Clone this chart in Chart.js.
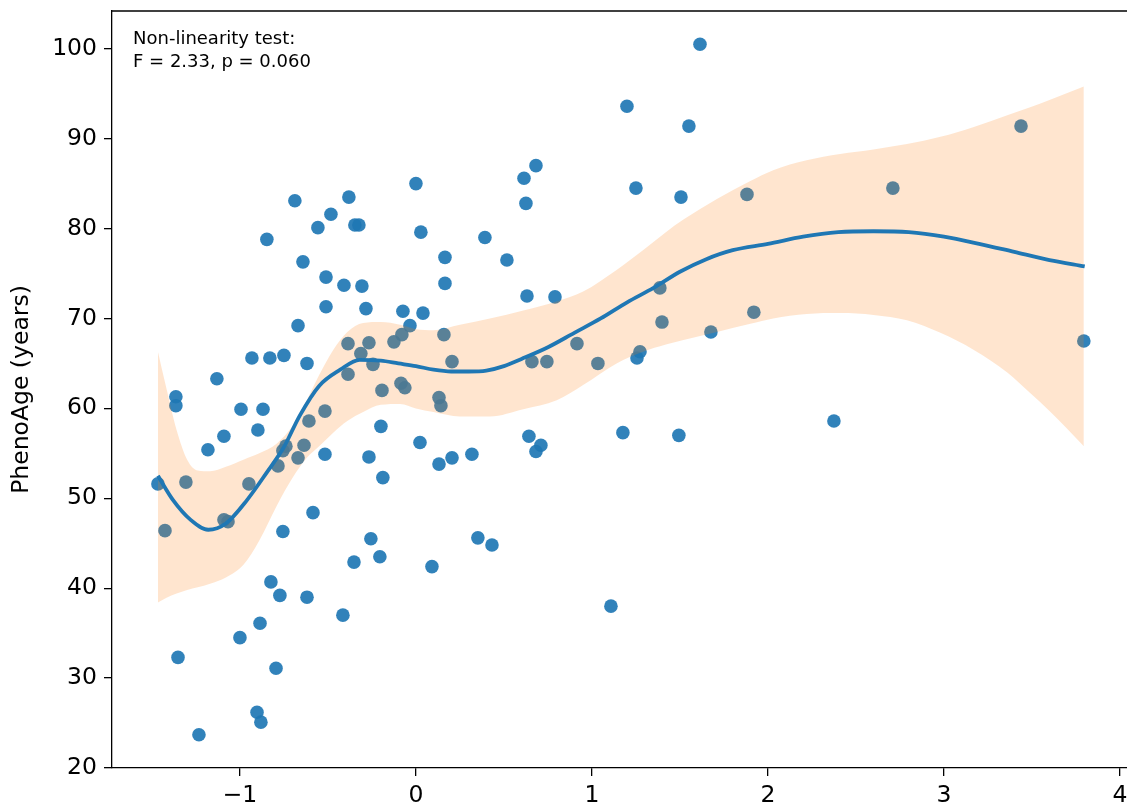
<!DOCTYPE html>
<html>
<head>
<meta charset="utf-8">
<title>PhenoAge non-linearity fit</title>
<script src="https://cdn.jsdelivr.net/npm/chart.js@4.4.1/dist/chart.umd.min.js"></script>
<style>
  html, body { margin: 0; padding: 0; background: #fff; overflow: hidden; }
  #wrap { width: 1160px; height: 810px; }
</style>
</head>
<body>
<div id="wrap"><canvas id="fitChart" width="1160" height="810"></canvas></div>
<script>
// Observed values (standardised exposure vs PhenoAge)
const scatterX = [
  -1.466, -1.426, -1.364, -1.364, -1.352, -1.307, -1.233, -1.182, -1.131, -1.091,
  -1.091, -1.068, -1.000, -0.994, -0.949, -0.932, -0.903, -0.898, -0.886, -0.881,
  -0.869, -0.847, -0.830, -0.824, -0.795, -0.784, -0.773, -0.756, -0.739, -0.756,
  -0.750, -0.688, -0.670, -0.670, -0.642, -0.636, -0.619, -0.619, -0.608, -0.585,
  -0.557, -0.517, -0.517, -0.511, -0.511, -0.483, -0.415, -0.409, -0.386, -0.386,
  -0.381, -0.352, -0.347, -0.324, -0.313, -0.307, -0.284, -0.267, -0.267, -0.256,
  -0.244, -0.205, -0.193, -0.199, -0.188, -0.125, -0.085, -0.080, -0.063, -0.074,
  -0.034, 0.000, 0.023, 0.028, 0.040, 0.091, 0.131, 0.142, 0.131, 0.159,
  0.165, 0.165, 0.205, 0.205, 0.318, 0.352, 0.392, 0.432, 0.517, 0.614,
  0.625, 0.631, 0.642, 0.659, 0.682, 0.682, 0.710, 0.744, 0.790, 0.915,
  1.034, 1.108, 1.176, 1.199, 1.250, 1.256, 1.273, 1.386, 1.398, 1.494,
  1.506, 1.551, 1.614, 1.676, 1.881, 1.920, 2.375, 2.710, 3.438, 3.795
];
const scatterY = [
  51.6, 46.4, 61.3, 60.3, 32.3, 51.8, 23.7, 55.4, 63.3, 56.9,
  47.6, 47.4, 34.5, 59.9, 51.6, 65.6, 26.2, 57.6, 36.1, 25.1,
  59.9, 78.8, 65.6, 40.7, 31.1, 53.6, 39.2, 55.3, 55.8, 46.3,
  65.9, 83.1, 54.5, 69.2, 76.3, 55.9, 65.0, 39.0, 58.6, 48.4,
  80.1, 59.7, 54.9, 74.6, 71.3, 81.6, 37.0, 73.7, 67.2, 63.8,
  83.5, 42.9, 80.4, 80.4, 66.1, 73.6, 71.1, 67.3, 54.6, 45.5,
  64.9, 43.5, 62.0, 58.0, 52.3, 67.4, 62.8, 68.2, 62.3, 70.8,
  69.2, 85.0, 56.2, 79.6, 70.6, 42.4, 61.2, 60.3, 53.8, 68.2,
  76.8, 73.9, 65.2, 54.5, 54.9, 45.6, 79.0, 44.8, 76.5, 85.6,
  82.8, 72.5, 56.9, 65.2, 87.0, 55.2, 55.9, 65.2, 72.4, 67.2,
  65.0, 38.0, 57.3, 93.6, 84.5, 65.6, 66.3, 73.4, 69.6, 57.0,
  83.5, 91.4, 100.5, 68.5, 83.8, 70.7, 58.6, 84.5, 91.4, 67.5
];

// Fitted spline
const fitX = [
  -1.466, -1.38, -1.28, -1.18, -1.08, -0.96, -0.85, -0.75, -0.66, -0.55,
  -0.43, -0.32, -0.20, -0.10, 0.00, 0.10, 0.20, 0.30, 0.40, 0.50,
  0.60, 0.75, 0.90, 1.05, 1.20, 1.35, 1.50, 1.65, 1.80, 2.00,
  2.20, 2.40, 2.60, 2.80, 3.00, 3.20, 3.40, 3.60, 3.80
];
const fitY = [
  52.5, 49.8, 47.6, 46.5, 47.2, 49.8, 52.8, 55.7, 59.2, 62.5,
  64.3, 65.4, 65.3, 65.0, 64.7, 64.3, 64.1, 64.1, 64.2, 64.7,
  65.5, 66.8, 68.4, 70.0, 71.8, 73.4, 75.2, 76.6, 77.6, 78.3,
  79.1, 79.6, 79.7, 79.6, 79.1, 78.3, 77.4, 76.5, 75.8
];

// 95% confidence band
const bandX = [
  -1.466, -1.42, -1.36, -1.30, -1.24, -1.17, -1.08, -0.98, -0.89, -0.79,
  -0.70, -0.62, -0.55, -0.47, -0.39, -0.30, -0.20, -0.09, 0.00, 0.10,
  0.25, 0.42, 0.61, 0.80, 0.95, 1.14, 1.29, 1.42, 1.52, 1.71,
  1.90, 2.03, 2.22, 2.41, 2.60, 2.79, 2.98, 3.17, 3.36, 3.49,
  3.60, 3.795
];
const bandUpper = [
  66.3, 62.4, 57.6, 54.3, 53.1, 53.0, 53.5, 54.3, 55.0, 56.1,
  58.1, 60.9, 63.7, 66.5, 68.5, 69.5, 69.6, 69.3, 68.8, 68.7,
  69.3, 70.0, 70.9, 71.9, 73.0, 75.4, 77.6, 79.6, 81.0, 83.3,
  85.3, 86.5, 87.6, 88.3, 88.8, 89.4, 90.2, 91.3, 92.6, 93.5,
  94.3, 95.8
];
const bandLower = [
  38.4, 38.9, 39.4, 39.8, 40.1, 40.5, 41.2, 42.6, 45.3, 49.2,
  52.3, 54.5, 55.8, 57.3, 58.6, 59.6, 60.4, 60.5, 60.0, 59.6,
  59.1, 59.1, 59.9, 60.9, 62.6, 65.0, 66.3, 67.1, 67.6, 68.5,
  69.4, 70.0, 70.5, 70.6, 70.4, 69.8, 68.4, 66.5, 64.0, 61.7,
  59.7, 55.8
];

const xTickValues = [-1, 0, 1, 2, 3, 4];
const yTickValues = [20, 30, 40, 50, 60, 70, 80, 90, 100];
const annotationLines = ['Non-linearity test:', 'F = 2.33, p = 0.060'];

const toPoints = (xs, ys) => xs.map((x, i) => ({ x: x, y: ys[i] }));

// Top spine + annotation text
const framePlugin = {
  id: 'frame',
  afterDraw(chart) {
    const { ctx, chartArea } = chart;
    ctx.save();
    ctx.strokeStyle = '#000';
    ctx.lineWidth = 1.3;
    ctx.beginPath();
    ctx.moveTo(chartArea.left, chartArea.top);
    ctx.lineTo(chartArea.right, chartArea.top);
    ctx.stroke();
    ctx.fillStyle = '#000';
    ctx.font = '18px "DejaVu Sans"';
    ctx.textBaseline = 'alphabetic';
    annotationLines.forEach((t, i) => {
      ctx.fillText(t, chartArea.left + 21, chartArea.top + 33 + i * 23);
    });
    ctx.restore();
  }
};

Chart.defaults.font.family = '"DejaVu Sans", sans-serif';
Chart.defaults.color = '#000';

const minusLabel = v => (v < 0 ? '\u2212' + Math.abs(v) : String(v));

new Chart(document.getElementById('fitChart'), {
  type: 'scatter',
  data: {
    datasets: [
      {
        type: 'line',
        data: toPoints(fitX, fitY),
        borderColor: '#1f77b4',
        borderWidth: 3.8,
        pointRadius: 0,
        cubicInterpolationMode: 'monotone',
        fill: false,
        order: 0
      },
      {
        type: 'line',
        data: toPoints(bandX, bandUpper),
        borderWidth: 0,
        borderColor: 'rgba(0,0,0,0)',
        pointRadius: 0,
        cubicInterpolationMode: 'monotone',
        backgroundColor: 'rgba(255,127,14,0.2)',
        fill: '+1',
        order: 1
      },
      {
        type: 'line',
        data: toPoints(bandX, bandLower),
        borderWidth: 0,
        borderColor: 'rgba(0,0,0,0)',
        pointRadius: 0,
        cubicInterpolationMode: 'monotone',
        fill: false,
        order: 1
      },
      {
        data: toPoints(scatterX, scatterY),
        backgroundColor: 'rgba(31,119,180,0.92)',
        borderWidth: 0,
        pointRadius: 6.8,
        order: 3
      }
    ]
  },
  options: {
    responsive: false,
    animation: false,
    events: [],
    layout: { padding: { top: 11, right: 10, bottom: 0, left: 0 } },
    plugins: {
      legend: { display: false },
      tooltip: { enabled: false }
    },
    scales: {
      x: {
        type: 'linear',
        min: -1.727,
        max: 4.171,
        afterBuildTicks: scale => { scale.ticks = xTickValues.map(v => ({ value: v })); },
        afterFit: scale => { scale.height = 42; scale.paddingLeft = 0; scale.paddingRight = 0; },
        grid: { drawOnChartArea: false, drawTicks: true, tickLength: 8, color: '#000', lineWidth: 1.3 },
        border: { display: true, color: '#000', width: 1.3 },
        ticks: { padding: 6, font: { size: 23.5 }, callback: minusLabel, maxRotation: 0 }
      },
      y: {
        min: 20,
        max: 104.2,
        afterBuildTicks: scale => { scale.ticks = yTickValues.map(v => ({ value: v })); },
        afterFit: scale => { scale.width = 112; scale.paddingTop = 0; scale.paddingBottom = 0; },
        grid: { drawOnChartArea: false, drawTicks: true, tickLength: 8, color: '#000', lineWidth: 1.3 },
        border: { display: true, color: '#000', width: 1.3 },
        ticks: { padding: 7, font: { size: 23.5 }, callback: minusLabel },
        title: { display: true, text: 'PhenoAge (years)', font: { size: 23.5 }, padding: { top: 8, bottom: 4 } }
      }
    }
  },
  plugins: [framePlugin]
});
</script>
</body>
</html>
